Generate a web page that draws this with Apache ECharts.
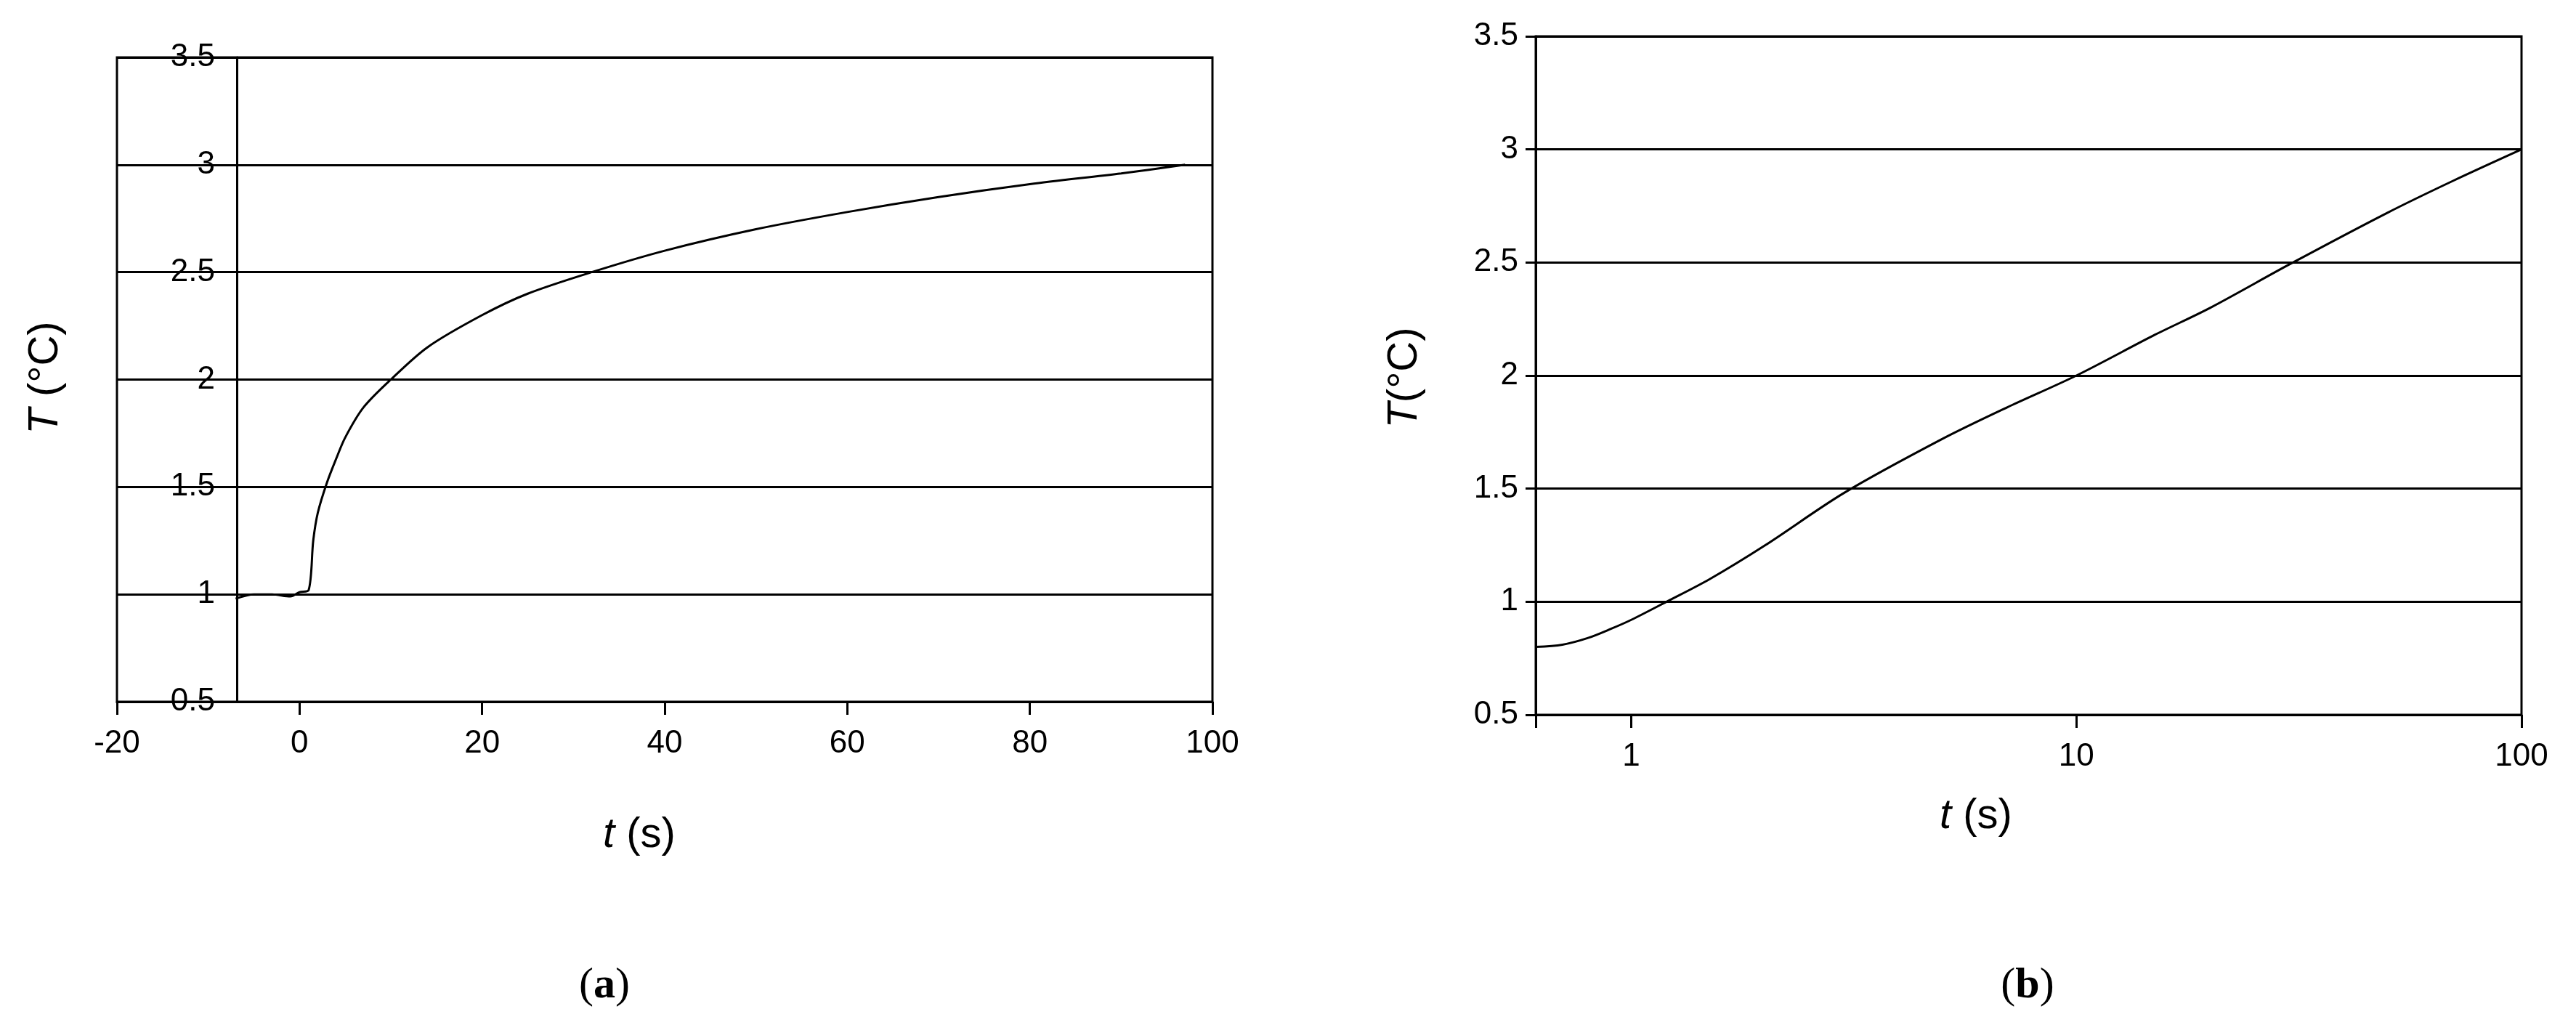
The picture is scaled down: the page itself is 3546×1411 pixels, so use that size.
<!DOCTYPE html>
<html>
<head>
<meta charset="utf-8" />
<script src="https://cdn.jsdelivr.net/npm/echarts@6/dist/echarts.min.js"></script>
<style>html,body{margin:0;background:#fff}#main{width:3546px;height:1411px}</style>
</head>
<body>
<div id="main"></div>
<script>
// (a) linear time
var tA = [-7, -5, -3, -1, 0, 1, 1.5, 2, 3, 4, 5, 7, 10, 14, 20, 25, 32, 40, 50, 60, 70, 80, 90, 97];
var TA = [0.98, 1.0, 1.0, 0.99, 1.01, 1.02, 1.25, 1.38, 1.52, 1.63, 1.73, 1.87, 2.0, 2.15, 2.3, 2.4, 2.5, 2.6, 2.7, 2.78, 2.85, 2.91, 2.96, 3.0];
// (b) log time
var tB = [0.61, 0.7, 0.8, 0.9, 1, 1.2, 1.5, 2, 3, 5, 7, 10, 15, 20, 30, 50, 70, 100];
var TB = [0.8, 0.81, 0.84, 0.88, 0.92, 1.0, 1.1, 1.25, 1.48, 1.72, 1.86, 2.0, 2.18, 2.3, 2.49, 2.72, 2.86, 3.0];
var yTicks = [0.5, 3.5, 0.5];

function pairs(x, y) { return x.map(function (v, i) { return [v, y[i]]; }); }

var chart = echarts.init(document.getElementById('main'));
var font = 'Liberation Sans, Arial, sans-serif';
var lab = { color: '#000', fontSize: 44, fontFamily: font };
var split = { show: true, lineStyle: { color: '#000', width: 3 } };
var ital = { i: { fontStyle: 'italic', fontSize: 58, fontFamily: font } };

chart.setOption({
  animation: false,
  grid: [
    { left: 161, top: 79, width: 1508, height: 887, show: true, borderColor: '#000', borderWidth: 3 },
    { left: 2114, top: 50, width: 1357, height: 934, show: true, borderColor: '#000', borderWidth: 3 }
  ],
  xAxis: [
    { gridIndex: 0, type: 'value', min: -20, max: 100, interval: 20,
      axisLine: { onZero: false, lineStyle: { color: '#000', width: 3 } },
      axisTick: { show: true, length: 18, lineStyle: { color: '#000', width: 3 } },
      axisLabel: Object.assign({ margin: 36 }, lab), splitLine: { show: false } },
    { gridIndex: 1, type: 'log', min: 0.61, max: 100, logBase: 10,
      axisLine: { onZero: false, lineStyle: { color: '#000', width: 3 } },
      axisTick: { show: true, length: 18, lineStyle: { color: '#000', width: 3 } },
      axisLabel: Object.assign({ margin: 36, formatter: function (v) {
        return [1, 10, 100].indexOf(Math.round(v * 1000) / 1000) >= 0 ? String(Math.round(v)) : '';
      } }, lab), splitLine: { show: false }, minorTick: { show: false } }
  ],
  yAxis: [
    { gridIndex: 0, type: 'value', min: yTicks[0], max: yTicks[1], interval: yTicks[2], offset: -165,
      axisLine: { show: true, onZero: false, lineStyle: { color: '#000', width: 3 } }, axisTick: { show: false },
      axisLabel: Object.assign({ margin: 30 }, lab), splitLine: split },
    { gridIndex: 1, type: 'value', min: yTicks[0], max: yTicks[1], interval: yTicks[2],
      axisLine: { show: true, onZero: false, lineStyle: { color: '#000', width: 3 } },
      axisTick: { show: true, length: 14, lineStyle: { color: '#000', width: 3 } },
      axisLabel: Object.assign({ margin: 24 }, lab), splitLine: split }
  ],
  series: [
    { type: 'line', xAxisIndex: 0, yAxisIndex: 0, data: pairs(tA, TA), smooth: 0.3, showSymbol: false,
      lineStyle: { color: '#000', width: 3 } },
    { type: 'line', xAxisIndex: 1, yAxisIndex: 1, data: pairs(tB, TB), smooth: 0.3, showSymbol: false,
      lineStyle: { color: '#000', width: 3 } }
  ],
  graphic: [
    { type: 'text', x: 880, y: 1150, style: { text: '{i|t} (s)', font: '58px ' + font, fill: '#000',
      align: 'center', verticalAlign: 'middle', rich: ital } },
    { type: 'text', x: 2720, y: 1124, style: { text: '{i|t} (s)', font: '58px ' + font, fill: '#000',
      align: 'center', verticalAlign: 'middle', rich: ital } },
    { type: 'text', x: 63, y: 520, rotation: Math.PI / 2, style: { text: '{i|T} (°C)', font: '58px ' + font, fill: '#000',
      align: 'center', verticalAlign: 'middle', rich: ital } },
    { type: 'text', x: 1934, y: 520, rotation: Math.PI / 2, style: { text: '{i|T}(°C)', font: '58px ' + font, fill: '#000',
      align: 'center', verticalAlign: 'middle', rich: ital } },
    { type: 'text', x: 832, y: 1357, style: { text: '({b|a})', font: '60px Liberation Serif, serif', fill: '#000',
      align: 'center', verticalAlign: 'middle', rich: { b: { fontWeight: 'bold', fontSize: 60, fontFamily: 'Liberation Serif, serif' } } } },
    { type: 'text', x: 2791, y: 1357, style: { text: '({b|b})', font: '60px Liberation Serif, serif', fill: '#000',
      align: 'center', verticalAlign: 'middle', rich: { b: { fontWeight: 'bold', fontSize: 60, fontFamily: 'Liberation Serif, serif' } } } }
  ]
});
</script>
</body>
</html>
